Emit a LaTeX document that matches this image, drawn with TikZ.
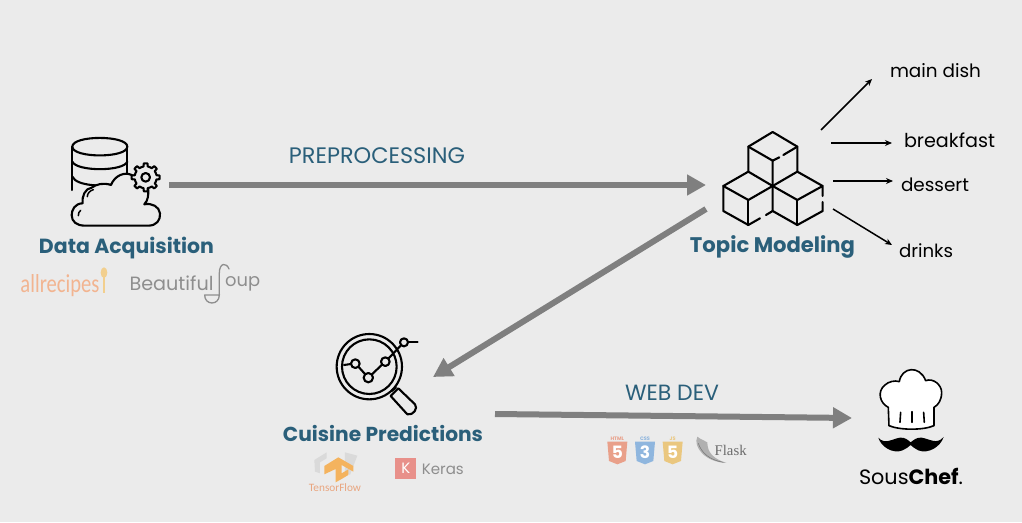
\documentclass[tikz,border=0pt]{standalone}
\usepackage{fontspec}
\setmainfont{Poppins}
\newfontfamily\narrowfont{Carlito}
\newfontfamily\flaskfont{Liberation Serif}
\usetikzlibrary{arrows.meta}
\definecolor{bgc}{HTML}{EBEBEB}
\definecolor{teal}{HTML}{2A5F7A}
\definecolor{arrowgray}{HTML}{7F7F7F}
\definecolor{logogray}{HTML}{8E8E8E}
\definecolor{htmlc}{HTML}{E9A08A}
\definecolor{cssc}{HTML}{8FB6DE}
\definecolor{jsc}{HTML}{EAC77F}
\definecolor{kerasc}{HTML}{E8908A}
\definecolor{tfc}{HTML}{F4B35E}
\definecolor{tftext}{HTML}{E9A680}
\definecolor{allrec}{HTML}{F2B490}
\definecolor{spoonc}{HTML}{F2CF8E}
\definecolor{shadowc}{HTML}{DADADA}
\newcommand{\fitw}[2]{\resizebox{#1pt}{!}{#2}}
\tikzset{
  flow/.style={draw=arrowgray,line width=6pt,-{Triangle[length=19pt,width=20pt]}},
  topic/.style={draw=black,line width=1.5pt,-{Stealth[length=7pt,width=6pt]}},
  icon/.style={draw=black,line width=2.1pt,line cap=round,line join=round},
  lab/.style={inner sep=0pt,text=teal,anchor=base},
  plain/.style={inner sep=0pt,text=black,anchor=base},
  logotext/.style={inner sep=0pt,text=logogray}
}
\begin{document}
\begin{tikzpicture}[x=1pt,y=-1pt]
\fill[bgc] (0,0) rectangle (1022,522);
\useasboundingbox (0,0) rectangle (1022,522);

% ---------- Data acquisition icon
\begin{scope}[shift={(10,125)},x=0.3333pt,y=-0.3333pt]
  \draw[icon] (187,65) .. controls (187,30) and (352,30) .. (352,65) .. controls (352,100) and (187,100) .. (187,65);
  \draw[icon] (187,65) -- (187,195);
  \draw[icon] (352,65) -- (352,145);
  \draw[icon] (187,110) .. controls (200,140) and (340,140) .. (352,110);
  \draw[icon] (187,155) .. controls (200,185) and (290,185) .. (310,177);
  \draw[icon,fill=bgc] (225,302) -- (415,302) .. controls (440,302) and (452,285) .. (450,265)
     .. controls (448,245) and (425,233) .. (403,238) .. controls (415,225) and (415,210) .. (415,195)
     -- (365,150) .. controls (345,140) and (315,150) .. (303,180)
     .. controls (280,172) and (258,178) .. (245,188) .. controls (225,190) and (215,215) .. (218,235)
     .. controls (195,235) and (185,255) .. (185,270) .. controls (185,290) and (200,302) .. (225,302) -- cycle;
  \draw[icon,line width=1.5pt] (205,272) .. controls (205,265) and (207,260) .. (212,256);
  \draw[icon,line width=1.5pt] (232,215) .. controls (232,205) and (240,197) .. (250,194);
  \draw[icon,fill=bgc,shift={(407,157)}] plot[domain=0:360,samples=97] (\x:{33+9*(cos(8*\x)>0)}) -- cycle;
  \draw[icon,shift={(407,157)}] (0,0) circle[radius=13];
  \node (acq) at (268,170) {};
\end{scope}

% ---------- Allrecipes logo
\begin{scope}[shift={(10,125)},x=0.3333pt,y=-0.3333pt]
  \node[inner sep=0pt,text=allrec] (allrecn) at (150,482)
    {\resizebox{79pt}{18pt}{\narrowfont allrecipes}};
  \fill[spoonc] (282,443) ellipse[x radius=10,y radius=16];
  \draw[spoonc,line width=2.2pt] (282,450) -- (282,505);
  % Beautiful Soup logo
  \node[logotext,anchor=west] (bs) at (358,475) {\fitw{84}{Beautiful}};
  \node[logotext,anchor=west] (bsb) at (645,478) {\fitw{35}{oup}};
  \draw[logogray,line width=1.3pt,line cap=round] (657,432) .. controls (650,412) and (628,412) .. (628,445) -- (628,510);
  \draw[logogray,line width=1.3pt,line cap=round] (584,510) -- (628,510) .. controls (628,525) and (618,534) .. (606,534) .. controls (594,534) and (584,525) .. (584,510);
\end{scope}

% ---------- Topic modeling icon
\begin{scope}[shift={(680,50)},x=0.3333pt,y=-0.3333pt]
  \draw[icon] (205,365) -- (205,290) -- (278,246) -- (352,290) -- (352,365);
  \draw[icon] (205,290) -- (278,332);
  \draw[icon] (352,290) -- (310,315);
  \draw[icon] (298,322) -- (278,332) -- (278,483);
  \draw[icon] (278,408) -- (205,365) -- (130,408) -- (130,483) -- (205,525) -- (240,505);
  \draw[icon] (130,408) -- (205,450) -- (278,408);
  \draw[icon] (205,450) -- (205,525);
  \draw[icon] (258,495) -- (278,483) -- (352,525) -- (428,483) -- (428,456);
  \draw[icon] (428,438) -- (428,408) -- (352,365) -- (278,408) -- (352,450) -- (428,408);
  \draw[icon] (352,450) -- (352,525);
  \node (topicicon) at (278,385) {};
\end{scope}

% ---------- Cuisine prediction icon
\begin{scope}[shift={(270,325)},x=0.3333pt,y=-0.3333pt]
  \draw[icon] (298,125) circle[radius=98];
  \draw[icon] (298,125) circle[radius=82];
  \draw[icon] (222,120) -- (243,117);
  \draw[icon] (266,126) -- (286,148);
  \draw[icon] (306,148) -- (335,120);
  \draw[icon] (356,100) -- (392,62);
  \draw[icon] (415,52) -- (443,52);
  \draw[icon,fill=bgc] (256,116) circle[radius=13];
  \draw[icon,fill=bgc] (295,158) circle[radius=14];
  \draw[icon,fill=bgc] (346,110) circle[radius=13];
  \draw[icon,fill=bgc] (402,52) circle[radius=12];
  \draw[icon] (365,198) -- (378,187);
  \draw[icon] (362,213) -- (385,190) -- (435,238) .. controls (445,250) and (430,272) .. (412,268) -- cycle;
  \node (cuisineicon) at (310,150) {};
\end{scope}

% ---------- TensorFlow and Keras logos
\begin{scope}[shift={(270,325)},x=0.3333pt,y=-0.3333pt]
  \fill[shadowc] (133,405) -- (170,382) -- (170,400) -- (150,412) -- (150,445) -- (135,440) -- cycle;
  \fill[shadowc] (225,382) -- (262,392) -- (240,450) -- (225,440) -- cycle;
  \fill[tfc] (163,423) -- (205,397) -- (250,423) -- (250,440) -- (215,420) -- (215,445) -- (235,433) -- (235,450) -- (215,462) -- (197,472) -- (197,432) -- (163,448) -- cycle;
  \node[inner sep=0pt,text=tftext] (tf) at (195,488) {\fitw{52}{\narrowfont TensorFlow}};
  \node[fill=kerasc,minimum width=21pt,minimum height=21pt,inner sep=0pt,text=white] (kbox) at (408,430) {\fontsize{15}{15}\selectfont K};
  \node[logotext,anchor=west] (keras) at (455,432) {\fitw{42}{Keras}};
\end{scope}

% ---------- Web logos and chef
\begin{scope}[shift={(590,365)},x=0.3333pt,y=-0.3333pt]
  \fill[htmlc] (52,230) -- (112,230) -- (107,288) -- (82,298) -- (57,288) -- cycle;
  \fill[cssc] (135,230) -- (195,230) -- (190,288) -- (165,298) -- (140,288) -- cycle;
  \fill[jsc] (218,230) -- (278,230) -- (273,288) -- (248,298) -- (223,288) -- cycle;
  \node[inner sep=0pt,text=white] (h5) at (82,262) {\bfseries\fontsize{17}{17}\selectfont 5};
  \node[inner sep=0pt,text=white] (c3) at (165,262) {\bfseries\fontsize{17}{17}\selectfont 3};
  \node[inner sep=0pt,text=white] (j5) at (248,262) {\bfseries\fontsize{17}{17}\selectfont 5};
  \node[inner sep=0pt,text=htmlc] (htmlt) at (82,220) {\bfseries\fontsize{5}{5}\selectfont HTML};
  \node[inner sep=0pt,text=cssc] (csst) at (165,220) {\bfseries\fontsize{5}{5}\selectfont CSS};
  \node[inner sep=0pt,text=jsc] (jst) at (248,220) {\bfseries\fontsize{5}{5}\selectfont JS};
  \fill[gray!55!bgc] (322,215) .. controls (308,245) and (345,292) .. (410,294) .. controls (370,282) and (352,262) .. (352,232) .. controls (345,226) and (335,226) .. (322,215) -- cycle;
  \draw[gray!90!black,line width=0.5pt] (325,235) .. controls (335,265) and (360,285) .. (400,292);
  \node[inner sep=0pt,text=gray!85!black] (flask) at (422,255) {\fitw{32}{\flaskfont Flask}};

  \draw[icon,fill=white,line width=1.6pt] (897,182) -- (895,127) .. controls (870,115) and (860,80) .. (885,60) .. controls (895,50) and (915,45) .. (928,50)
     .. controls (935,5) and (990,0) .. (1007,47) .. controls (1030,38) and (1055,60) .. (1055,82) .. controls (1055,105) and (1045,120) .. (1032,127)
     -- (1032,182) .. controls (1000,196) and (930,196) .. (897,182) -- cycle;
  \draw[icon,line width=1.6pt] (932,142) -- (930,172);
  \draw[icon,line width=1.6pt] (966,140) -- (966,172);
  \draw[icon,line width=1.6pt] (1001,142) -- (1003,172);
  \fill[black] (865,218) .. controls (885,240) and (905,222) .. (930,218) .. controls (945,216) and (955,226) .. (962,232)
     .. controls (970,226) and (980,216) .. (995,218) .. controls (1020,222) and (1040,240) .. (1061,216)
     .. controls (1052,245) and (1015,268) .. (985,256) .. controls (975,252) and (968,245) .. (962,240)
     .. controls (956,245) and (948,252) .. (938,256) .. controls (908,268) and (873,245) .. (865,218) -- cycle;
  \node (chef) at (962,150) {};
\end{scope}

% ---------- Labels
\node[lab] (prep) at (377,163) {\fitw{176}{PREPROCESSING}};
\node[lab] (web) at (672,400.5) {\fitw{94}{WEB DEV}};
\node[lab] (data) at (126.5,253) {\fitw{175}{\bfseries Data Acquisition}};
\node[lab] (topicl) at (772.5,252) {\fitw{165}{\bfseries Topic Modeling}};
\node[lab] (cuisine) at (383,441) {\fitw{200}{\bfseries Cuisine Predictions}};
\node[plain] (sous) at (911,484) {\fitw{104}{Sous\textbf{Chef}.}};
\node[plain] (main) at (935.5,77) {\fitw{91}{main dish}};
\node[plain] (break) at (949.5,147) {\fitw{91}{breakfast}};
\node[plain] (dess) at (935,191) {\fitw{68}{dessert}};
\node[plain] (drink) at (926,257) {\fitw{54}{drinks}};

% ---------- Connectors
\coordinate (a1) at (169,185); \coordinate (a2) at (706,185);
\coordinate (b1) at (706,209); \coordinate (b2) at (433,377);
\coordinate (c1) at (495,414); \coordinate (c2) at (852,418);
\coordinate (t0) at (821,130); \coordinate (t1) at (872,79);
\coordinate (t2) at (831,143); \coordinate (t3) at (892,143);
\coordinate (t4) at (833,181); \coordinate (t5) at (893,181);
\coordinate (t6) at (833,209); \coordinate (t7) at (892,245);
\draw[flow] (a1) -- (a2);
\draw[flow] (b1) -- (b2);
\draw[flow] (c1) -- (c2);
\draw[topic] (t0) -- (t1);
\draw[topic] (t2) -- (t3);
\draw[topic] (t4) -- (t5);
\draw[topic] (t6) -- (t7);
\end{tikzpicture}
\end{document}
